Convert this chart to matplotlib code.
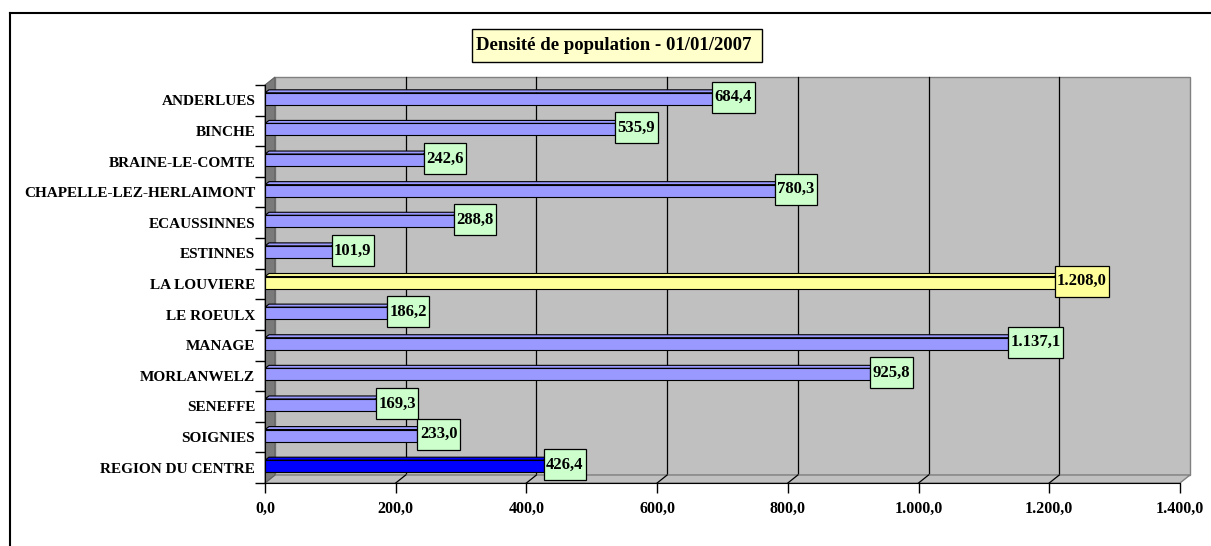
import matplotlib.pyplot as plt
import numpy as np
from matplotlib.patches import Rectangle, Polygon
from matplotlib.lines import Line2D

plt.rcParams['font.family'] = ['Liberation Serif', 'DejaVu Serif']

communes = ['ANDERLUES', 'BINCHE', 'BRAINE-LE-COMTE', 'CHAPELLE-LEZ-HERLAIMONT',
            'ECAUSSINNES', 'ESTINNES', 'LA LOUVIERE', 'LE ROEULX', 'MANAGE',
            'MORLANWELZ', 'SENEFFE', 'SOIGNIES', 'REGION DU CENTRE']
densite = [684.4, 535.9, 242.6, 780.3, 288.8, 101.9, 1208.0, 186.2, 1137.1,
           925.8, 169.3, 233.0, 426.4]
bar_colors = ['#9999ff'] * 6 + ['#ffff99'] + ['#9999ff'] * 5 + ['#0000ff']
box_colors = ['#ccffcc'] * 6 + ['#ffff99'] + ['#ccffcc'] * 6
xticks = [0, 200, 400, 600, 800, 1000, 1200, 1400]
titre = 'Densité de population - 01/01/2007'


def fmt(v):
    s = f'{v:,.1f}'
    return s.replace(',', 'X').replace('.', ',').replace('X', '.')


W, H = 1211, 546
fig = plt.figure(figsize=(W / 100, H / 100), dpi=100)
ax = fig.add_axes([265 / W, 1 - 483 / H, 915 / W, 398 / H])
ax.set_facecolor('none')

n = len(communes)
xmax = 1400
ax.set_xlim(0, xmax)
ax.set_ylim(n - 0.5, -0.5)

pxx = xmax / 915.0      # data units per pixel (x)
pxy = n / 398.0         # data units per pixel (y)

# 3D box: depth offset
dxw = 10 * pxx
dyw = 8 * pxy
ybot, ytop = n - 0.5, -0.5

# back wall
ax.add_patch(Rectangle((dxw, ytop - dyw), xmax, n, facecolor='#c0c0c0',
                       edgecolor='#808080', lw=1, clip_on=False, zorder=0))
# floor
ax.add_patch(Polygon([(0, ybot), (xmax, ybot), (xmax + dxw, ybot - dyw), (dxw, ybot - dyw)],
                     closed=True, facecolor='#c0c0c0', edgecolor='#808080', lw=1,
                     clip_on=False, zorder=0.5))
# left wall
ax.add_patch(Polygon([(0, ybot), (dxw, ybot - dyw), (dxw, ytop - dyw), (0, ytop)],
                     closed=True, facecolor='#7a7a7a', edgecolor='#606060', lw=0.8,
                     clip_on=False, zorder=0.6))
# gridlines on wall and floor
for xt in xticks[1:-1]:
    ax.plot([xt + dxw, xt + dxw], [ybot - dyw, ytop - dyw], color='black', lw=0.9,
            clip_on=False, zorder=0.3)
    ax.plot([xt, xt + dxw], [ybot, ybot - dyw], color='black', lw=0.9,
            clip_on=False, zorder=0.7)

# bars (3D look)
h = 12 * pxy
bdx = 4 * pxx
bdy = 3 * pxy
shift = -1.5 * pxy
for i, (v, c) in enumerate(zip(densite, bar_colors)):
    y0 = i + shift - h / 2
    ax.add_patch(Polygon([(0, y0), (v, y0), (v + bdx, y0 - bdy), (bdx, y0 - bdy)],
                         closed=True, facecolor=c, edgecolor='black', lw=0.8, zorder=2))
    ax.add_patch(Polygon([(v, y0), (v + bdx, y0 - bdy), (v + bdx, y0 + h - bdy), (v, y0 + h)],
                         closed=True, facecolor=c, edgecolor='black', lw=0.8, zorder=2))
    ax.add_patch(Rectangle((0, y0), v, h, facecolor=c, edgecolor='black', lw=0.8, zorder=3))

# value labels
texts = []
for i, v in enumerate(densite):
    t = ax.text(v + 2.5 * pxx, i - 3 * pxy, fmt(v), ha='left', va='center',
                fontsize=12, fontweight='bold', zorder=6, clip_on=False)
    texts.append(t)
fig.canvas.draw()
inv = ax.transData.inverted()
for i, (v, t) in enumerate(zip(densite, texts)):
    bb = t.get_window_extent()
    x1 = inv.transform((bb.x1, bb.y0))[0] + 2.5 * pxx
    ax.add_patch(Rectangle((v, i - 3 * pxy - 15.5 * pxy), x1 - v, 31 * pxy,
                           facecolor=box_colors[i], edgecolor='black', lw=0.9,
                           zorder=5, clip_on=False))

# axes
for s in ['top', 'right']:
    ax.spines[s].set_visible(False)
ax.spines['left'].set_color('black')
ax.spines['bottom'].set_color('black')
ax.spines['left'].set_zorder(4)
ax.set_xticks(xticks)
ax.set_xticklabels([fmt(x) for x in xticks], fontsize=11.5, fontweight='bold')
ax.tick_params(axis='x', direction='out', length=7, width=1, pad=6)
ax.set_yticks(range(n))
ax.set_yticklabels(communes, fontsize=11, fontweight='bold')
ax.set_yticks(np.arange(n + 1) - 0.5, minor=True)
ax.tick_params(axis='y', which='major', length=0, pad=7)
ax.tick_params(axis='y', which='minor', direction='out', length=7, width=1)

# title box
fig.add_artist(Rectangle((472 / W, 1 - 62 / H), 290 / W, 33 / H, transform=fig.transFigure,
                         facecolor='#ffffcc', edgecolor='black', lw=1))
fig.text(614 / W, 1 - 46 / H, titre, ha='center', va='center', fontsize=13.5,
         fontweight='bold')

# outer frame (top and left only visible)
fig.add_artist(Line2D([10 / W, 1], [1 - 13 / H, 1 - 13 / H], transform=fig.transFigure,
                      color='black', lw=1.5))
fig.add_artist(Line2D([10 / W, 10 / W], [0, 1 - 13 / H], transform=fig.transFigure,
                      color='black', lw=1.5))

fig.savefig('out.png', dpi=100)
